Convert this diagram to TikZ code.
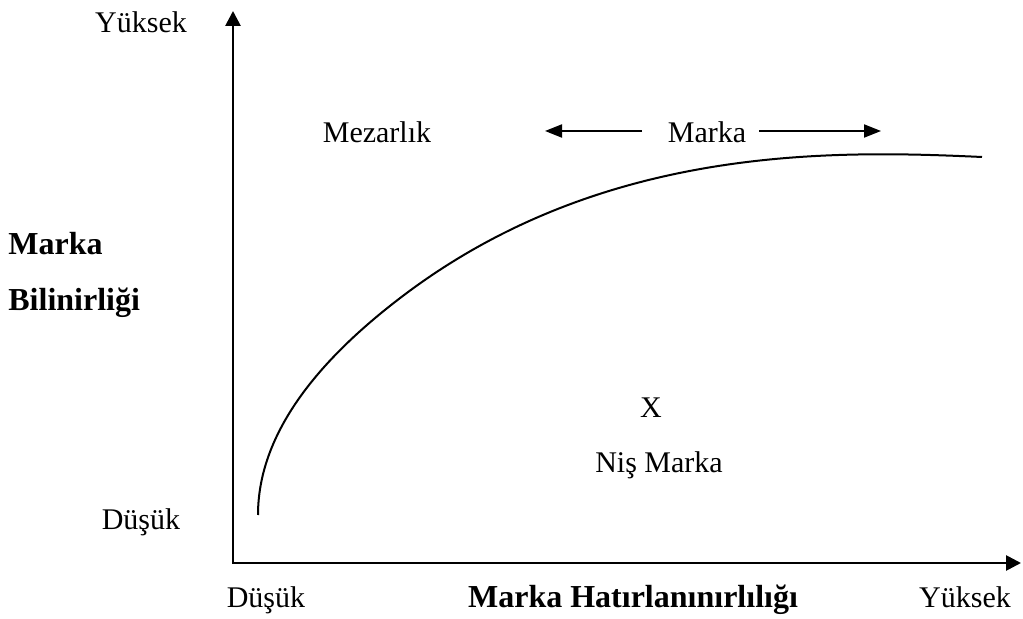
\documentclass[tikz,border=0pt]{standalone}
\usepackage{fontspec}
\setmainfont{Liberation Serif}
\usetikzlibrary{arrows.meta}

\begin{document}
\begin{tikzpicture}[x=0.5pt,y=-0.5pt,
    lbl/.style={font=\fontsize{15}{18}\selectfont, inner sep=0pt, anchor=base},
    bold/.style={font=\fontsize{16}{19}\selectfont\bfseries, inner sep=0pt, anchor=base},
    axisline/.style={line width=1.35pt, {Triangle[length=7.5pt,width=7.5pt]}-{Triangle[length=7.5pt,width=7.5pt]}},
    dirarrow/.style={line width=1pt, -{Triangle[length=8.5pt,width=6.5pt]}}]
    \useasboundingbox (0,0) rectangle (1023,619);

    % Define coordinates
    \coordinate (O) at (233,563);
    \coordinate (ytop) at (233,11);
    \coordinate (xend) at (1021,563);

    % Draw the axes
    \draw[axisline] (ytop) -- (O) -- (xend);

    % Axis ends
    \node[lbl] (yhigh) at (141,33) {Yüksek};
    \node[lbl] (ylow) at (141,530) {Düşük};
    \node[lbl] (xlow) at (266,608) {Düşük};
    \node[lbl] (xhigh) at (965,608) {Yüksek};

    % Axis titles
    \node[bold, anchor=base west] (ytitA) at (8,255) {Marka};
    \node[bold, anchor=base west] (ytitB) at (8,311) {Bilinirliği};
    \node[bold] (xtit) at (633,608) {Marka Hatırlanınırlılığı};

    % Regions
    \node[lbl] (grave) at (377,143) {Mezarlık};
    \node[lbl] (brand) at (707,143) {Marka};
    \node[lbl] (xmark) at (651,418) {X};
    \node[lbl] (niche) at (659,473) {Niş Marka};

    % Arrows round the brand label
    \coordinate (ltail) at (642,131);
    \coordinate (ltip) at (545,131);
    \coordinate (rtail) at (759,131);
    \coordinate (rtip) at (881,131);
    \draw[dirarrow] (ltail) -- (ltip);
    \draw[dirarrow] (rtail) -- (rtip);

    % Brand curve: square-root rise, then flattening out
    \draw[line width=1pt] plot[domain=0:11.92, samples=50, smooth]
        ({258+\x*\x},{515-18.2*\x})
        .. controls (600,145) and (830,150) .. (982,157);
\end{tikzpicture}
\end{document}
